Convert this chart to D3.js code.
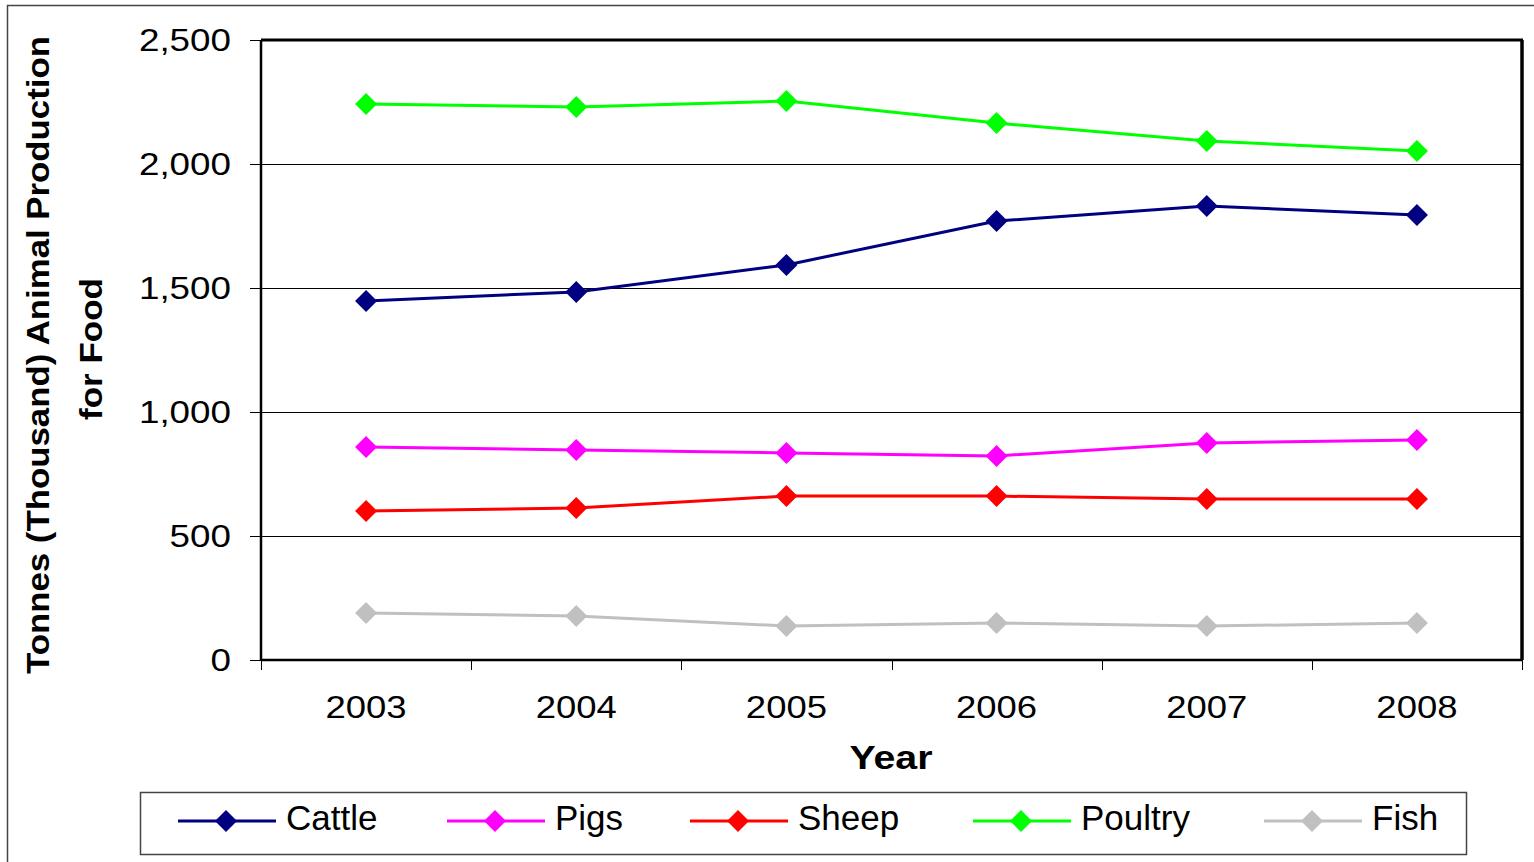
<!DOCTYPE html>
<html><head><meta charset="utf-8">
<script src="https://cdn.jsdelivr.net/npm/d3@7/dist/d3.min.js"></script>
<style>body{margin:0;background:#fff;}svg{display:block;font-family:"Liberation Sans",Arial,sans-serif;}</style>
</head><body>
<svg id="chart" width="1534" height="862"></svg>
<script>
const years = ["2003","2004","2005","2006","2007","2008"];
const cattle  = [1448,1484,1593,1770,1831,1794];
const pigs    = [859,847,835,823,875,887];
const sheep   = [601,613,661,661,649,649];
const poultry = [2242,2230,2254,2165,2093,2052];
const fish    = [190,177,137,149,137,149];
const yTicks  = [0,500,1000,1500,2000,2500];
const seriesNames = ["Cattle","Pigs","Sheep","Poultry","Fish"];
const seriesColors = ["#000080","#FF00FF","#FF0000","#00FF00","#C0C0C0"];
const seriesData = [cattle,pigs,sheep,poultry,fish];

const svg = d3.select("#chart");
const L=261,R=1522,T=40,B=660;
const x = d3.scaleBand().domain(years).range([L,R]);
const y = d3.scaleLinear().domain([0,2500]).range([B,T]);

// outer frame
svg.append("rect").attr("x",7.5).attr("y",5.5).attr("width",1540).attr("height",870)
  .attr("fill","none").attr("stroke","#444").attr("stroke-width",1.5);

// gridlines
svg.append("g").selectAll("line").data(yTicks.filter(d=>d>0&&d<2500)).join("line")
  .attr("x1",L).attr("x2",R).attr("y1",d=>Math.round(y(d))+0.5).attr("y2",d=>Math.round(y(d))+0.5)
  .attr("stroke","#000").attr("stroke-width",1);

// plot frame top/right
svg.append("line").attr("x1",L).attr("x2",R+1).attr("y1",T).attr("y2",T).attr("stroke","#000").attr("stroke-width",3);
svg.append("line").attr("x1",R).attr("x2",R).attr("y1",T).attr("y2",B).attr("stroke","#000").attr("stroke-width",3.5);

// y axis
const yAxis = svg.append("g").attr("transform",`translate(${L},0)`)
  .call(d3.axisLeft(y).tickValues(yTicks).tickFormat(d3.format(",")).tickSize(11).tickPadding(0));
yAxis.select(".domain").attr("stroke","#000").attr("stroke-width",2.5).attr("d",`M0,${T}V${B}`);
yAxis.selectAll(".tick line").attr("stroke","#000").attr("stroke-width",1);
yAxis.selectAll(".tick text").attr("font-size",32).attr("fill","#000")
  .attr("x",0).attr("dy","0.34em")
  .attr("transform","translate(-30,0) scale(1.15,1)");

// x axis
const xAxis = svg.append("g").attr("transform",`translate(0,${B})`)
  .call(d3.axisBottom(x).tickSize(0).tickPadding(0));
xAxis.select(".domain").attr("stroke","#000").attr("stroke-width",2.5).attr("d",`M${L},0H${R}`);
xAxis.selectAll(".tick text").attr("font-size",32).attr("fill","#000").attr("y",0).attr("dy",0)
  .attr("transform","translate(0,58) scale(1.14,1)");
const bounds = years.map(d=>x(d)).concat([R]);
xAxis.append("g").selectAll("line").data(bounds).join("line")
  .attr("x1",d=>Math.round(d)+0.5).attr("x2",d=>Math.round(d)+0.5).attr("y1",0).attr("y2",10).attr("stroke","#000").attr("stroke-width",1);

// axis titles
svg.append("text").attr("transform","translate(49,355) rotate(-90)").attr("text-anchor","middle")
  .attr("font-size",32).attr("font-weight","bold")
  .attr("textLength",638).attr("lengthAdjust","spacingAndGlyphs")
  .text("Tonnes (Thousand) Animal Production");
svg.append("text").attr("transform","translate(102,349) rotate(-90)").attr("text-anchor","middle")
  .attr("font-size",32).attr("font-weight","bold")
  .attr("textLength",142).attr("lengthAdjust","spacingAndGlyphs")
  .text("for Food");
svg.append("text").attr("x",891).attr("y",769).attr("text-anchor","middle")
  .attr("font-size",33).attr("font-weight","bold")
  .attr("textLength",83).attr("lengthAdjust","spacingAndGlyphs").text("Year");

// series
const diamond = s => `M0,${-s}L${s},0L0,${s}L${-s},0Z`;
const line = d3.line().x((d,i)=>x(years[i])+x.bandwidth()/2).y(d=>y(d));
seriesData.forEach((data,k)=>{
  const g = svg.append("g");
  g.append("path").datum(data).attr("d",line).attr("fill","none")
    .attr("stroke",seriesColors[k]).attr("stroke-width",3);
  g.selectAll("path.m").data(data).join("path").attr("class","m")
    .attr("d",diamond(11))
    .attr("transform",(d,i)=>`translate(${x(years[i])+x.bandwidth()/2},${y(d)})`)
    .attr("fill",seriesColors[k]);
});

// legend
svg.append("rect").attr("x",140.5).attr("y",792.5).attr("width",1326).attr("height",62)
  .attr("fill","#fff").attr("stroke","#444").attr("stroke-width",1.5);
const legX = [178,447,690,973,1264];
seriesNames.forEach((n,k)=>{
  const g = svg.append("g").attr("transform",`translate(${legX[k]},821)`);
  g.append("line").attr("x1",0).attr("x2",98).attr("stroke",seriesColors[k]).attr("stroke-width",3);
  g.append("path").attr("d",diamond(11)).attr("transform","translate(48,0)").attr("fill",seriesColors[k]);
  g.append("text").attr("x",108).attr("y",9).attr("font-size",35).attr("fill","#000").text(n);
});
</script>
</body></html>
